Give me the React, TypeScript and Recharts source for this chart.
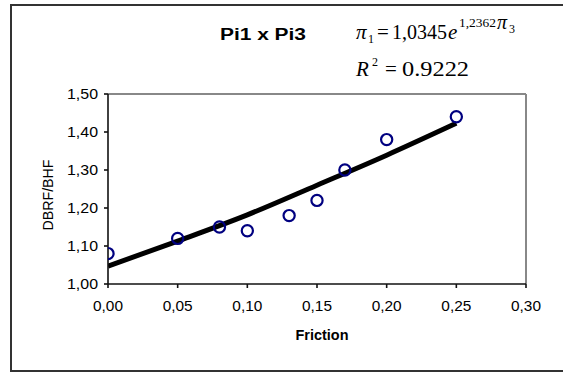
import React from 'react';
import {
  ComposedChart,
  Line,
  Scatter,
  XAxis,
  YAxis,
  ReferenceLine,
} from 'recharts';

// measured points (Friction vs DBRF/BHF)
const frictionValues = [0, 0.05, 0.08, 0.1, 0.13, 0.15, 0.17, 0.2, 0.25];
const ratioValues = [1.08, 1.12, 1.15, 1.14, 1.18, 1.22, 1.3, 1.38, 1.44];

// exponential trend line
const trendFriction = [0, 0.05, 0.1, 0.15, 0.2, 0.25];
const trendRatio = [1.047, 1.113, 1.182, 1.26, 1.339, 1.423];

const xTicks = [0, 0.05, 0.1, 0.15, 0.2, 0.25, 0.3];
const yTicks = [1.0, 1.1, 1.2, 1.3, 1.4, 1.5];

const SANS = '"Liberation Sans", Arial, sans-serif';
const SERIF = '"Liberation Serif", "Times New Roman", serif';

const points = frictionValues.map((x, i) => ({ x, y: ratioValues[i] }));
const trend = trendFriction.map((x, i) => ({ x, y: trendRatio[i] }));

function comma(v: number): string {
  return v.toFixed(2).replace('.', ',');
}

function YTick({ x, y, payload }: any) {
  return (
    <text
      x={x}
      y={y}
      dy="0.355em"
      textAnchor="end"
      fontFamily={SANS}
      fontSize={14}
      fill="#000"
      textLength={31}
      lengthAdjust="spacingAndGlyphs"
    >
      {comma(payload.value)}
    </text>
  );
}

function XTick({ x, y, payload }: any) {
  return (
    <text
      x={x}
      y={y}
      dy="0.71em"
      textAnchor="middle"
      fontFamily={SANS}
      fontSize={14}
      fill="#000"
      textLength={30}
      lengthAdjust="spacingAndGlyphs"
    >
      {comma(payload.value)}
    </text>
  );
}

function Ring({ cx, cy }: any) {
  return <circle cx={cx} cy={cy} r={5.6} fill="none" stroke="#000080" strokeWidth={2.2} />;
}

export default function App() {
  return (
    <div style={{ position: 'absolute', left: 0, top: 0, width: 563, height: 374, background: '#fff' }}>
      <ComposedChart
        width={563}
        height={374}
        margin={{ top: 94, right: 37, bottom: 50, left: 40 }}
      >
        <XAxis
          type="number"
          dataKey="x"
          domain={[0, 0.3]}
          ticks={xTicks}
          tick={<XTick />}
          tickSize={4}
          tickMargin={13}
          height={40}
          stroke="#111"
          strokeWidth={1.6}
          allowDataOverflow
        />
        <YAxis
          type="number"
          dataKey="y"
          domain={[1, 1.5]}
          ticks={yTicks}
          tick={<YTick />}
          tickSize={4}
          tickMargin={6}
          width={68}
          stroke="#111"
          strokeWidth={1.6}
          allowDataOverflow
        />
        <ReferenceLine y={1.5} stroke="#888" strokeWidth={2} />
        <ReferenceLine x={0.3} stroke="#888" strokeWidth={2} />
        <Line
          data={trend}
          dataKey="y"
          type="monotone"
          stroke="#000"
          strokeWidth={5}
          dot={false}
          activeDot={false}
          isAnimationActive={false}
        />
        <Scatter
          data={points}
          dataKey="y"
          shape={<Ring />}
          isAnimationActive={false}
        />
      </ComposedChart>

      <svg
        width={563}
        height={374}
        style={{ position: 'absolute', left: 0, top: 0, pointerEvents: 'none' }}
      >
        {/* chart frame, runs off the right edge */}
        <path d="M 600 5 L 11 5 L 11 371 L 600 371" fill="none" stroke="#333" strokeWidth={2} />

        <text x={220} y={40} fontFamily={SANS} fontWeight="bold" fontSize={16} textLength={86} lengthAdjust="spacingAndGlyphs">
          Pi1 x Pi3
        </text>

        {/* trend equation, one text element per line */}
        <text fontFamily={SERIF} fill="#000" fontSize={21}>
          <tspan x={356} y={39} fontStyle="italic">π</tspan>
          <tspan x={368} y={43} fontSize={12}>1</tspan>
          <tspan x={377} y={39}>=</tspan>
          <tspan x={392} y={39} fontSize={20}>1,0345</tspan>
          <tspan x={448} y={39} fontStyle="italic">e</tspan>
          <tspan x={459} y={27} fontSize={12} textLength={37} lengthAdjust="spacingAndGlyphs">1,2362</tspan>
          <tspan x={497} y={29} fontSize={20} fontStyle="italic">π</tspan>
          <tspan x={509} y={33} fontSize={12}>3</tspan>
        </text>
        <text fontFamily={SERIF} fill="#000" fontSize={21}>
          <tspan x={356} y={76} fontStyle="italic">R</tspan>
          <tspan x={372} y={66} fontSize={12}>2</tspan>
          <tspan x={385} y={76}>=</tspan>
          <tspan x={402} y={76} textLength={67} lengthAdjust="spacingAndGlyphs">0.9222</tspan>
        </text>

        <text
          transform="translate(53 195) rotate(-90)"
          textAnchor="middle"
          fontFamily={SANS}
          fontSize={14}
          textLength={71}
          lengthAdjust="spacingAndGlyphs"
        >
          DBRF/BHF
        </text>
        <text x={322} y={340} textAnchor="middle" fontFamily={SANS} fontWeight="bold" fontSize={14} textLength={53} lengthAdjust="spacingAndGlyphs">
          Friction
        </text>
      </svg>
    </div>
  );
}
